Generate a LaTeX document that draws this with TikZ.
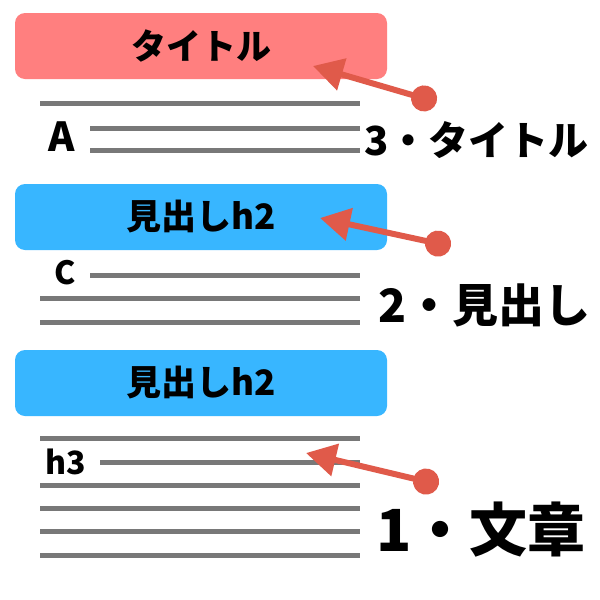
\documentclass[tikz,border=0pt]{standalone}
\usepackage{fontspec}
\newfontfamily\jp{Noto Sans CJK JP}
\usetikzlibrary{arrows.meta}
\definecolor{titlered}{HTML}{FF7F7F}
\definecolor{headblue}{HTML}{38B6FF}
\definecolor{arrowred}{HTML}{E05A4A}
\definecolor{linegray}{HTML}{787878}
\tikzset{
  box/.style={rounded corners=10pt, minimum width=372pt, minimum height=66pt, inner sep=0pt, font=\jp\bfseries\fontsize{35}{35}\selectfont},
  txt/.style={line width=5pt, draw=linegray},
  lbl/.style={inner sep=0pt, font=\jp\bfseries},
  pointer/.style={line width=6pt, draw=arrowred, {Circle[length=26pt]}-{Triangle[length=30pt,width=32pt]}, shorten <=-11pt},
}
\begin{document}
\begin{tikzpicture}[x=1pt,y=-1pt]
\useasboundingbox (0,0) rectangle (600,600);
\fill[white] (0,0) rectangle (600,600);
% section 3
\node[box, fill=titlered] (title) at (201,46) {タイトル};
\coordinate (l1a) at (40,103); \coordinate (l1b) at (360,103);
\coordinate (l2a) at (90,128); \coordinate (l2b) at (360,128);
\coordinate (l3a) at (90,150); \coordinate (l3b) at (360,150);
\draw[txt] (l1a) -- (l1b);
\draw[txt] (l2a) -- (l2b);
\draw[txt] (l3a) -- (l3b);
\node[lbl, font=\jp\bfseries\fontsize{40}{40}\selectfont] (A) at (62,137) {A};
\node[lbl, anchor=west, font=\jp\bfseries\fontsize{40}{40}\selectfont] (t3) at (364,140) {3・タイトル};
\coordinate (d3) at (426,99); \coordinate (p3) at (313,66);
\draw[pointer] (d3) -- (p3);
% section 2
\node[box, fill=headblue] (h2a) at (201,217) {見出しh2};
\coordinate (m1a) at (90,275); \coordinate (m1b) at (360,275);
\coordinate (m2a) at (40,298); \coordinate (m2b) at (360,298);
\coordinate (m3a) at (40,322); \coordinate (m3b) at (360,322);
\draw[txt] (m1a) -- (m1b);
\draw[txt] (m2a) -- (m2b);
\draw[txt] (m3a) -- (m3b);
\node[lbl, font=\jp\bfseries\fontsize{32}{32}\selectfont] (C) at (65,273) {C};
\node[lbl, anchor=west, font=\jp\bfseries\fontsize{46}{46}\selectfont] (t2) at (378,305) {2・見出し};
\coordinate (d2) at (440,244); \coordinate (p2) at (320,218);
\draw[pointer] (d2) -- (p2);
% section 1
\node[box, fill=headblue] (h2b) at (201,383) {見出しh2};
\foreach \y in {438,485,508,531,555} {\draw[txt] (40,\y) -- (360,\y);}
\coordinate (h3a) at (100,462); \coordinate (h3b) at (360,462);
\draw[txt] (h3a) -- (h3b);
\node[lbl, font=\jp\bfseries\fontsize{32}{32}\selectfont] (H3) at (66,462) {h3};
\node[lbl, anchor=west, font=\jp\bfseries\fontsize{58}{58}\selectfont] (t1) at (376,530) {1・文章};
\coordinate (d1) at (428,482); \coordinate (p1) at (306,453);
\draw[pointer] (d1) -- (p1);
\end{tikzpicture}
\end{document}
